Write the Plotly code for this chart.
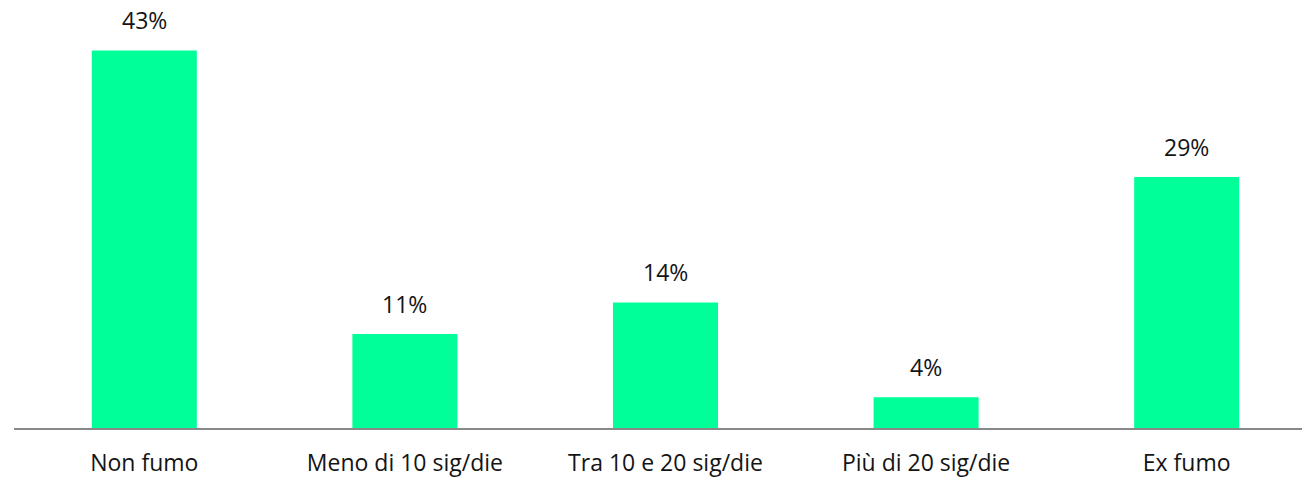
import plotly.graph_objects as go

categories = ["Non fumo", "Meno di 10 sig/die", "Tra 10 e 20 sig/die", "Più di 20 sig/die", "Ex fumo"]
values = [43.0, 10.7, 14.3, 3.5, 28.6]
labels = ["43%", "11%", "14%", "4%", "29%"]

BAR_COLOR = "#00FF99"
TEXT_COLOR = "#141414"
FONT = "Open Sans"

fig = go.Figure()
fig.add_trace(go.Bar(
    x=list(range(len(categories))),
    y=values,
    marker=dict(color=BAR_COLOR, line=dict(width=0)),
    hoverinfo="skip",
))

for i, (v, t) in enumerate(zip(values, labels)):
    fig.add_annotation(x=i, y=v, text=t, showarrow=False, yanchor="bottom",
                       yshift=12, font=dict(family=FONT, size=23, color=TEXT_COLOR))

fig.update_layout(
    width=1302, height=478,
    margin=dict(l=14, r=0, t=0, b=50),
    paper_bgcolor="white", plot_bgcolor="white",
    bargap=0.597,
    showlegend=False,
    font=dict(family=FONT, size=23, color=TEXT_COLOR),
)
fig.update_xaxes(
    tickmode="array", tickvals=list(range(len(categories))), ticktext=categories,
    range=[-0.5, 4.4425],
    showline=True, linecolor="#888888", linewidth=2,
    showgrid=False, zeroline=False,
    ticks="outside", ticklen=13, tickcolor="rgba(0,0,0,0)",
    tickfont=dict(family=FONT, size=23, color=TEXT_COLOR),
    automargin=False, fixedrange=True,
)
fig.update_yaxes(
    range=[0, 48.75], visible=False, showgrid=False, zeroline=False,
    fixedrange=True,
)

fig.write_html("out.html", config={"displayModeBar": False},
               post_script="document.body.style.margin='0';document.body.style.overflow='hidden';")
